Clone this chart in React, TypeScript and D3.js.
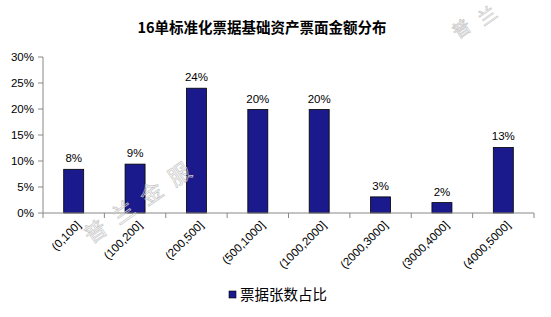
import * as d3 from "d3";

// chart data
const categories = [
  "(0,100]",
  "(100,200]",
  "(200,500]",
  "(500,1000]",
  "(1000,2000]",
  "(2000,3000]",
  "(3000,4000]",
  "(4000,5000]",
];
const shares = [8.4, 9.4, 24.0, 19.9, 19.9, 3.1, 2.0, 12.6];
const shareLabels = ["8%", "9%", "24%", "20%", "20%", "3%", "2%", "13%"];
const yTicks = [0, 5, 10, 15, 20, 25, 30];
const title = "16单标准化票据基础资产票面金额分布";
const seriesName = "票据张数占比";
const watermark = ["普", "兰", "金", "服"];

const W = 551;
const H = 317;
const margin = { top: 57, left: 43, right: 17, bottom: 104 };
const barColor = "#1a1a8c";
const font = "Arial, 'Liberation Sans', sans-serif";
const cjkFont = "'Noto Sans CJK SC', sans-serif";

export default function App() {
  const plotW = W - margin.left - margin.right;
  const plotH = H - margin.top - margin.bottom;

  const x = d3.scaleBand<string>().domain(categories).range([0, plotW]);
  const y = d3.scaleLinear().domain([0, 30]).range([plotH, 0]);
  const barW = 20;

  return (
    <svg
      width={W}
      height={H}
      style={{ position: "absolute", left: 0, top: 0, background: "#fff" }}
    >
      <text
        x={262}
        y={33}
        textAnchor="middle"
        fontFamily={cjkFont}
        fontWeight="bold"
        fontSize={14.5}
        fill="#000"
      >
        {title}
      </text>

      <g transform={`translate(${margin.left},${margin.top})`}>
        {/* y axis */}
        <line x1={0} x2={0} y1={0} y2={plotH} stroke="#888" />
        {yTicks.map((t) => (
          <g key={t} transform={`translate(0,${y(t)})`}>
            <line x1={-5} x2={0} stroke="#888" />
            <text
              x={-9}
              dy="0.35em"
              textAnchor="end"
              fontFamily={font}
              fontSize={11.5}
              fill="#000"
            >
              {t}%
            </text>
          </g>
        ))}

        {/* bars */}
        {categories.map((c, i) => {
          const cx = x(c)! + x.bandwidth() / 2;
          return (
            <g key={c}>
              <rect
                x={cx - barW / 2}
                y={y(shares[i])}
                width={barW}
                height={plotH - y(shares[i])}
                fill={barColor}
                stroke="#000"
                strokeWidth={0.8}
              />
              <text
                x={cx}
                y={y(shares[i]) - 7}
                textAnchor="middle"
                fontFamily={font}
                fontSize={11.5}
                fill="#000"
              >
                {shareLabels[i]}
              </text>
            </g>
          );
        })}

        {/* x axis */}
        <line x1={0} x2={plotW} y1={plotH} y2={plotH} stroke="#888" />
        {[...categories.map((c) => x(c)!), plotW].map((px, i) => (
          <line
            key={i}
            x1={px}
            x2={px}
            y1={plotH}
            y2={plotH + 5}
            stroke="#888"
          />
        ))}
        {categories.map((c) => {
          const cx = x(c)! + x.bandwidth() / 2;
          return (
            <text
              key={c}
              transform={`translate(${cx + 5},${plotH + 10}) rotate(-45)`}
              textAnchor="end"
              dy="0.35em"
              fontFamily={font}
              fontSize={11.5}
              fill="#000"
            >
              {c}
            </text>
          );
        })}
      </g>

      {/* legend */}
      <rect x={229} y={291} width={7} height={7} fill={barColor} stroke="#000" strokeWidth={0.6} />
      <text
        x={240}
        y={295}
        dy="0.35em"
        fontFamily={cjkFont}
        fontSize={14.5}
        fill="#000"
      >
        {seriesName}
      </text>

      {/* watermark */}
      {watermark.map((w, i) => (
        <text
          key={"a" + i}
          transform={`translate(${100 + i * 28},${238 - i * 19}) rotate(-35)`}
          textAnchor="middle"
          fontFamily={cjkFont}
          fontSize={22}
          fill="none"
          stroke="#c8c8c8"
          strokeWidth={0.7}
        >
          {w}
        </text>
      ))}
      {watermark.slice(0, 2).map((w, i) => (
        <text
          key={"b" + i}
          transform={`translate(${465 + i * 26},${34 - i * 13}) rotate(-35)`}
          textAnchor="middle"
          fontFamily={cjkFont}
          fontSize={18}
          fill="none"
          stroke="#c8c8c8"
          strokeWidth={0.7}
        >
          {w}
        </text>
      ))}
    </svg>
  );
}
